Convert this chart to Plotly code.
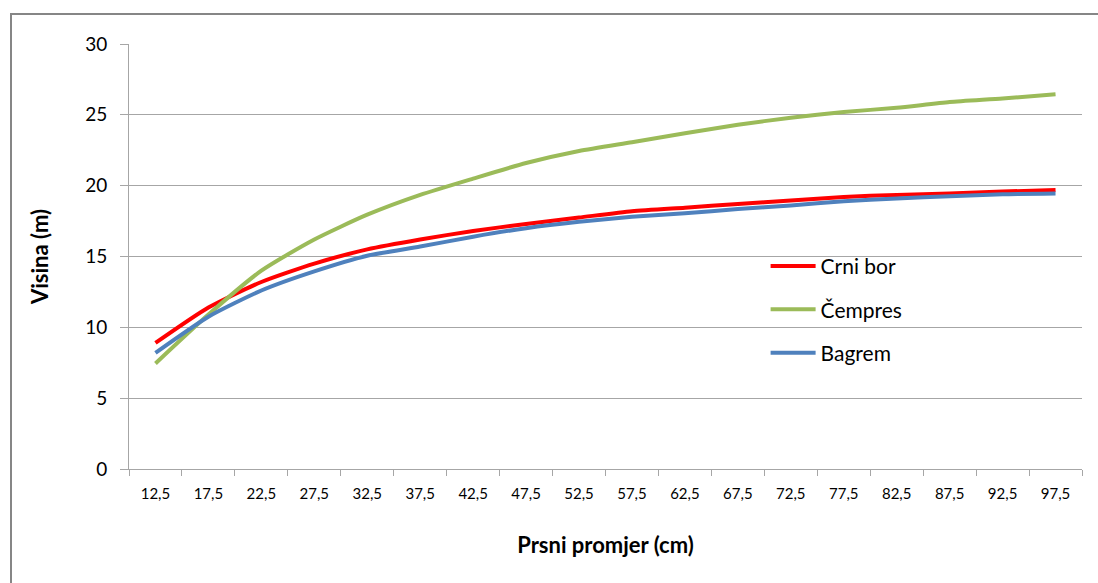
import plotly.graph_objects as go

# Breast-height diameter classes (cm) and mean tree heights (m) per species
diameters = ["12,5", "17,5", "22,5", "27,5", "32,5", "37,5", "42,5", "47,5", "52,5",
             "57,5", "62,5", "67,5", "72,5", "77,5", "82,5", "87,5", "92,5", "97,5"]

crni_bor = [8.9, 11.4, 13.2, 14.5, 15.5, 16.2, 16.8, 17.3, 17.75,
            18.2, 18.45, 18.7, 18.95, 19.2, 19.35, 19.45, 19.58, 19.7]
cempres = [7.45, 10.9, 14.0, 16.2, 17.95, 19.35, 20.5, 21.6, 22.45,
           23.07, 23.7, 24.3, 24.8, 25.2, 25.5, 25.9, 26.15, 26.45]
bagrem = [8.2, 10.75, 12.6, 13.95, 15.05, 15.7, 16.4, 17.0, 17.45,
          17.8, 18.05, 18.35, 18.6, 18.9, 19.1, 19.25, 19.4, 19.45]

series = [
    ("Crni bor", crni_bor, "#FF0000"),
    ("Čempres", cempres, "#9BBB59"),
    ("Bagrem", bagrem, "#4F81BD"),
]

FONT = "Lato, 'Liberation Sans', sans-serif"
GRID = "#A6A6A6"

fig = go.Figure()
for name, vals, color in series:
    fig.add_trace(go.Scatter(
        x=diameters, y=vals, name=name, mode="lines",
        legendgroup=name,
        line=dict(color=color, width=4, shape="spline", smoothing=0.6),
    ))

fig.update_layout(
    width=1098, height=583,
    margin=dict(l=129, r=16, t=44, b=114),
    paper_bgcolor="white", plot_bgcolor="white",
    font=dict(family=FONT, color="#000000"),
    showlegend=True,
    legend=dict(
        x=0.668, y=0.525, xanchor="left", yanchor="top",
        font=dict(size=21, family=FONT, color="#000000"),
        bgcolor="rgba(0,0,0,0)",
        tracegroupgap=13, traceorder="grouped",
        itemwidth=45,
    ),
    xaxis=dict(
        type="category",
        range=[-0.5, 17.5],
        showgrid=False,
        showline=True, linecolor=GRID, linewidth=1,
        ticks="outside", ticklen=6, tickcolor=GRID, tickson="boundaries",
        tickfont=dict(size=15, family=FONT),
        ticklabelstandoff=11,
        title=dict(text="<b>Prsni promjer (cm)</b>", font=dict(size=22, family=FONT), standoff=36),
        zeroline=False,
    ),
    yaxis=dict(
        range=[0, 30], tick0=0, dtick=5,
        showgrid=True, gridcolor=GRID, gridwidth=1,
        showline=True, linecolor=GRID, linewidth=1,
        ticks="outside", ticklen=8, tickcolor=GRID,
        tickfont=dict(size=19, family=FONT),
        ticklabelstandoff=9,
        title=dict(text="<b>Visina (m)</b>", font=dict(size=22, family=FONT), standoff=30),
        zeroline=False,
    ),
)

# Chart-area frame (runs past the right and bottom edges of the page)
fig.add_shape(type="rect", xref="paper", yref="paper",
              x0=(11 - 129) / 953, x1=(1120 - 129) / 953,
              y0=(469 - 620) / 425, y1=(469 - 14) / 425,
              line=dict(color="#868686", width=2), fillcolor="rgba(0,0,0,0)",
              layer="below")

fig.write_html("out.html")
